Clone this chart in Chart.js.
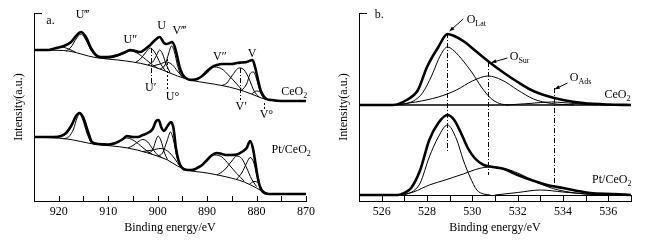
<!DOCTYPE html>
<html>
<head>
<meta charset="utf-8">
<script src="https://cdn.jsdelivr.net/npm/chart.js@4/dist/chart.umd.min.js"></script>
<style>
  body { margin: 0; background: #fff; width: 655px; height: 241px; position: relative; overflow: hidden; }
  #wrapA { position: absolute; left: 0; top: 0; width: 325px; height: 241px; }
  #wrapB { position: absolute; left: 325px; top: 0; width: 330px; height: 241px; }
</style>
</head>
<body>
<div id="wrapA"><canvas id="chartA"></canvas></div>
<div id="wrapB"><canvas id="chartB"></canvas></div>
<script>
// ---- panel a: Ce 3d, [binding energy, intensity] ----
const ticksA = [920, 910, 900, 890, 880, 870];
const minorA = [925, 920, 915, 910, 905, 900, 895, 890, 885, 880, 875, 870];

const ceRaw = [[925,151],[922,151],[920.5,153],[919,155],[917.5,159],[916.5,165],[915.5,169],[914.5,164],[913.5,153],[912.5,146],[911.5,144],[910,144],[908,146],[906.5,149],[905.5,151],[904.5,150],[903.5,149],[902.5,152],[901.5,156],[900.5,161],[899.6,164],[898.7,158],[898.2,157],[897.6,158],[897.1,159],[896.6,155],[896.1,146],[895.6,135],[895,127],[894,122],[893,121],[892,122],[891,125],[890,130],[889,134],[888,136],[887,137],[886,137],[885,137],[884,138],[883,138.5],[882,139],[881.2,140.5],[880.8,141],[880.3,134],[879.7,121],[879.2,111],[878.6,105],[878,102],[877,101],[875,100],[870,100]];
const ceBg = [[925,151],[919,150.5],[917,149],[914,145],[912,143],[908,141],[905,139],[902,136],[899,131],[896,125],[893,120.5],[890,118],[887,115.5],[884,112],[881,107],[879,103],[877,100.5],[875,100],[870,100]];
const ceShoulder = [[923,151],[921,152],[919.5,154],[918,152],[916.5,148.5]];
const ceU3 = [[918.5,150],[917.5,154],[916.5,162],[915.5,167],[914.5,161],[913.5,151],[912.5,145],[911.5,142.8]];
const ceU2 = [[911,142.5],[909,143.5],[907,147],[905.5,150],[904,147.5],[902.5,142],[901,136],[900,133]];
const ceU1 = [[904.5,138.5],[903.5,142],[902.5,148],[901.5,153],[900.5,148],[899.5,138],[898.5,130.5]];
const ceU = [[902,136],[901,139],[900.2,146],[899.6,151],[899,147],[898.3,137],[897.5,128.5]];
const ceU0 = [[901,135],[899.5,137],[898.3,139],[897,136],[896,130],[895,124]];
const ceV3 = [[899.5,132],[898.5,136],[897.8,147],[897.2,155],[896.6,149],[896,136],[895.3,126],[894.5,122.5]];
const ceV2 = [[894,121.5],[892,122.5],[890,128],[888.5,134],[887,132],[885.5,125],[884,117],[883,111.5]];
const ceV1 = [[887,115.5],[886,118],[885,125],[883.5,133],[882.5,131],[881.5,122],[880.5,110],[879.5,104]];
const ceV = [[883,110.5],[882,117],[881.2,128],[880.6,129],[880,122],[879.3,110],[878.6,103],[878,101.5]];
const ceV0 = [[881,107],[880,110],[879.2,108.5],[878.5,103.5],[877.5,101]];

const ptRaw = [[925,64],[921,64],[919.5,65],[918.5,68],[917.5,75],[916.5,85],[915.8,88],[915,83],[914,68],[913.3,59],[912,57],[910,56.5],[908.5,58],[907,62],[906.2,65],[905,64],[904,64],[903,66],[902,68],[901,72],[900.3,80],[899.8,81],[899.2,73],[898.7,70],[898,75],[897.3,79],[896.8,73],[896.3,53],[895.8,41],[895.2,34],[894,31],[893,31],[892,33],[891,36],[890,41],[889,46],[888,48],[887,47],[886,46],[885,46],[884,46.5],[883,49],[882,53],[881.3,60],[880.7,52],[880.2,37],[879.7,22],[879.2,13],[878.7,9],[877.5,7],[875,7],[870,7]];
const ptBg = [[925,64],[918.3,62],[913,57],[906,53],[902,48],[898,41],[896,35],[894,31],[890,28],[886,24],[882.5,19],[880,13],[878.5,9],[877,7],[870,7]];
const ptU3 = [[919,62.2],[918,64],[917,72],[916.3,83],[915.8,87],[915.2,82],[914.3,68],[913.5,59],[912.5,56.5]];
const ptU2 = [[911,55.8],[909,57],[907.5,60.5],[906.3,63],[905,61],[903.5,55.5],[902,49.5],[901,46.5]];
const ptU1 = [[906,53],[905,55.5],[904,59],[903,61.5],[902,59],[901,52],[900,46],[899,43]];
const ptU = [[902,48],[901,51],[900.4,60],[899.9,65],[899.3,60],[898.6,48],[898,41.5]];
const ptU0 = [[903,49.5],[901,51],[899.5,52.5],[898,50],[896.5,42],[895.5,34.5]];
const ptV3 = [[900,45],[899,48],[898.1,60],[897.4,69],[896.8,61],[896.1,44],[895.4,35],[894.6,32]];
const ptV2 = [[894,31],[892,33],[890,40],[888.5,46],[887,44],[885.5,36],[884,27.5],[882.5,20]];
const ptV1 = [[888,26],[886.5,31],[885,40],[884,45],[883,42.5],[882,33],[881,22],[880,14.5]];
const ptV = [[884,22],[883,28],[882,38],[881.3,43.5],[880.6,39],[880,27],[879.3,15],[878.7,10]];
const ptV0 = [[881.5,16.5],[880.5,19.5],[879.6,18],[878.8,11],[878,8]];

// ---- panel b: O 1s ----
const ticksB = [526, 528, 530, 532, 534, 536];
const minorB = [525, 526, 527, 528, 529, 530, 531, 532, 533, 534, 535, 536, 537];

const oCeRaw = [[525,96],[526.5,96],[527.1,101],[527.6,111],[528,134],[528.5,154],[528.9,167],[529.2,165],[529.6,160],[530.2,149],[530.8,138],[531.4,128],[532,119],[532.6,111],[533.3,105],[534,101],[534.9,98],[536,96.5],[537,96]];
const oCeBase = [[525,96],[537,96]];
const oCeLat = [[526.8,96],[527.4,100],[527.8,108],[528.2,125],[528.6,146],[528.9,154],[529.2,150],[529.6,140],[530,128],[530.4,114],[530.8,103],[531.2,97.5],[531.6,96]];
const oCeSur = [[526.5,96],[527.5,99],[528.5,104],[529.3,111],[530,120],[530.7,125],[531.3,121],[532,111],[532.7,102],[533.5,97.5],[534.5,96]];
const oCeAds = [[531.5,96],[532.5,97.5],[533.5,99],[534.5,97.5],[535.5,96]];

const oPtRaw = [[525,6],[526.7,6],[527,8],[527.3,13],[527.7,31],[528.1,61],[528.5,78],[528.9,86],[529.2,81],[529.5,68],[529.8,53],[530.1,43],[530.5,36],[530.9,34],[531.4,32],[532,26],[532.6,21],[533.3,16],[534,13],[535.2,8],[536.2,7],[537,6]];
const oPtLat = [[527,6],[527.4,10],[527.7,18],[528.1,44],[528.5,64],[528.9,76],[529.3,62],[529.6,41],[529.9,24],[530.2,11],[530.5,7],[530.8,6]];
const oPtSur = [[526.8,6],[527.4,9],[528.1,16],[528.8,21],[529.6,27],[530.3,32.5],[530.8,34],[531.4,32.5],[532,28],[532.9,18],[533.8,11],[535,7],[536,6]];
const oPtAds = [[531,6],[532,8.5],[533,11],[534,9],[535,7],[536,6]];

const FONT = '"Liberation Serif", "DejaVu Serif", serif';

function curve(points, width) {
    return {
        data: points.map(p => ({ x: p[0], y: p[1] })),
        borderColor: '#000',
        borderWidth: width,
        pointRadius: 0,
        cubicInterpolationMode: 'monotone',
        fill: false
    };
}

// draws text with an optional subscript part
function richText(ctx, text, sub, px, py, align) {
    ctx.font = '12px ' + FONT;
    const w1 = ctx.measureText(text).width;
    ctx.font = '8px ' + FONT;
    const w2 = sub ? ctx.measureText(sub).width : 0;
    let sx = px;
    if (align === 'center') sx = px - (w1 + w2) / 2;
    if (align === 'right') sx = px - w1 - w2;
    ctx.textAlign = 'left';
    ctx.textBaseline = 'middle';
    ctx.font = '12px ' + FONT;
    ctx.fillText(text, sx, py);
    if (sub) {
        ctx.font = '8px ' + FONT;
        ctx.fillText(sub, sx + w1, py + 4);
    }
}

// axis decorations, marker lines and labels
const decor = {
    id: 'decor',
    afterDatasetsDraw(chart, args, opts) {
        const { ctx, chartArea: a, scales: { x, y } } = chart;
        ctx.save();
        ctx.strokeStyle = '#000';
        ctx.fillStyle = '#000';
        ctx.lineWidth = 1;
        // little hook on top of the y axis
        ctx.beginPath();
        ctx.moveTo(a.left, a.top + 0.5);
        ctx.lineTo(a.left + 8, a.top + 0.5);
        ctx.stroke();
        // inward tick marks
        opts.minor.forEach(v => {
            const px = Math.round(x.getPixelForValue(v)) + 0.5;
            ctx.beginPath();
            ctx.moveTo(px, a.bottom);
            ctx.lineTo(px, a.bottom - opts.tickLen);
            ctx.stroke();
        });
        if (opts.strip !== undefined) {
            const sy = Math.round(y.getPixelForValue(opts.strip)) + 0.5;
            ctx.beginPath();
            ctx.moveTo(a.left, sy);
            ctx.lineTo(a.right, sy);
            ctx.stroke();
        }
        // vertical marker lines
        opts.markers.forEach(m => {
            const px = Math.round(x.getPixelForValue(m.e)) + 0.5;
            ctx.setLineDash(m.dash);
            ctx.beginPath();
            ctx.moveTo(px, y.getPixelForValue(m.from));
            ctx.lineTo(px, y.getPixelForValue(m.to));
            ctx.stroke();
        });
        ctx.setLineDash([]);
        // arrows
        (opts.arrows || []).forEach(r => {
            const x0 = x.getPixelForValue(r.from[0]), y0 = y.getPixelForValue(r.from[1]);
            const x1 = x.getPixelForValue(r.to[0]), y1 = y.getPixelForValue(r.to[1]);
            const ang = Math.atan2(y1 - y0, x1 - x0);
            ctx.beginPath();
            ctx.moveTo(x0, y0);
            ctx.lineTo(x1, y1);
            ctx.stroke();
            ctx.beginPath();
            ctx.moveTo(x1, y1);
            ctx.lineTo(x1 - 5 * Math.cos(ang - 0.4), y1 - 5 * Math.sin(ang - 0.4));
            ctx.lineTo(x1 - 5 * Math.cos(ang + 0.4), y1 - 5 * Math.sin(ang + 0.4));
            ctx.closePath();
            ctx.fill();
        });
        // labels
        opts.labels.forEach(l => {
            richText(ctx, l.t, l.sub, x.getPixelForValue(l.e), y.getPixelForValue(l.i), l.align || 'center');
        });
        ctx.restore();
    }
};

function baseOptions(xmin, xmax, reverse, ticks, ymax) {
    return {
        responsive: true,
        maintainAspectRatio: false,
        animation: false,
        devicePixelRatio: 1,
        layout: { padding: { top: 13, right: 0, left: 0, bottom: 0 } },
        plugins: { legend: { display: false }, tooltip: { enabled: false } },
        scales: {
            x: {
                type: 'linear', min: xmin, max: xmax, reverse: reverse,
                afterBuildTicks: s => { s.ticks = ticks.map(v => ({ value: v })); },
                afterFit: s => { s.height = 40; },
                grid: { display: false, drawTicks: false },
                border: { display: true, color: '#000', width: 1 },
                ticks: { color: '#000', font: { family: FONT, size: 12 }, padding: 4, maxRotation: 0 },
                title: { display: true, text: 'Binding energy/eV', color: '#000', font: { family: FONT, size: 12 }, padding: { top: 0, bottom: 6 } }
            },
            y: {
                min: 0, max: ymax,
                afterFit: s => { s.width = 34; },
                grid: { display: false },
                border: { display: true, color: '#000', width: 1 },
                ticks: { display: false },
                title: { display: true, text: 'Intensity(a.u.)', color: '#000', font: { family: FONT, size: 12 }, padding: { top: 12, bottom: 0 } }
            }
        }
    };
}

const optsA = baseOptions(870, 925, true, ticksA, 188);
optsA.layout.padding.right = 19;
optsA.plugins.decor = {
    minor: minorA, tickLen: 5,
    markers: [
        { e: 901.4, from: 153, to: 118, dash: [5, 2, 1, 2] },
        { e: 898.2, from: 142, to: 112, dash: [2, 2] },
        { e: 883.3, from: 133, to: 101, dash: [5, 2, 1, 2] },
        { e: 878.5, from: 98, to: 92, dash: [2, 2] }
    ],
    labels: [
        { t: 'a.', e: 922.5, i: 180, align: 'left' },
        { t: 'U\u2034', e: 915.2, i: 186 },
        { t: 'U\u2033', e: 905.5, i: 161 },
        { t: 'U', e: 899.2, i: 175 },
        { t: 'V\u2034', e: 895.6, i: 170 },
        { t: 'V\u2033', e: 887.4, i: 144 },
        { t: 'V', e: 880.9, i: 147 },
        { t: 'U\u2032', e: 901.4, i: 113 },
        { t: 'U\u00b0', e: 897, i: 104 },
        { t: 'V\u2032', e: 883.1, i: 94 },
        { t: 'V\u00b0', e: 878, i: 86 },
        { t: 'CeO', sub: '2', e: 872.4, i: 109 },
        { t: 'Pt/CeO', sub: '2', e: 873, i: 51 }
    ]
};

new Chart(document.getElementById('chartA'), {
    type: 'line',
    data: {
        datasets: [
            curve(ceBg, 1), curve(ceShoulder, 1), curve(ceU3, 1), curve(ceU2, 1), curve(ceU1, 1),
            curve(ceU, 1), curve(ceU0, 1), curve(ceV3, 1), curve(ceV2, 1), curve(ceV1, 1),
            curve(ceV, 1), curve(ceV0, 1), curve(ceRaw, 2.6),
            curve(ptBg, 1), curve(ptU3, 1), curve(ptU2, 1), curve(ptU1, 1), curve(ptU, 1),
            curve(ptU0, 1), curve(ptV3, 1), curve(ptV2, 1), curve(ptV1, 1), curve(ptV, 1),
            curve(ptV0, 1), curve(ptRaw, 2.6)
        ]
    },
    options: optsA,
    plugins: [decor]
});

const optsB = baseOptions(525, 537, false, ticksB, 188);
optsB.layout.padding.right = 24;
optsB.plugins.decor = {
    minor: minorB, tickLen: 6, strip: 6,
    markers: [
        { e: 528.9, from: 168, to: 49, dash: [5, 2, 1, 2] },
        { e: 530.7, from: 139, to: 26, dash: [5, 2, 1, 2] },
        { e: 533.6, from: 113, to: 13, dash: [5, 2, 1, 2] }
    ],
    arrows: [
        { from: [529.6, 182], to: [529.0, 170] },
        { from: [531.55, 143], to: [530.85, 138.5] },
        { from: [534.2, 118], to: [533.65, 112] }
    ],
    labels: [
        { t: 'b.', e: 525.7, i: 186, align: 'left' },
        { t: 'O', sub: 'Lat', e: 529.75, i: 181, align: 'left' },
        { t: 'O', sub: 'Sur', e: 531.65, i: 144, align: 'left' },
        { t: 'O', sub: 'Ads', e: 534.3, i: 123, align: 'left' },
        { t: 'CeO', sub: '2', e: 536.4, i: 106 },
        { t: 'Pt/CeO', sub: '2', e: 536.15, i: 21 }
    ]
};

new Chart(document.getElementById('chartB'), {
    type: 'line',
    data: {
        datasets: [
            curve(oCeBase, 1.6), curve(oCeLat, 1), curve(oCeSur, 1), curve(oCeAds, 1), curve(oCeRaw, 2.6),
            curve(oPtLat, 1), curve(oPtSur, 1), curve(oPtAds, 1), curve(oPtRaw, 2.6)
        ]
    },
    options: optsB,
    plugins: [decor]
});
</script>
</body>
</html>
